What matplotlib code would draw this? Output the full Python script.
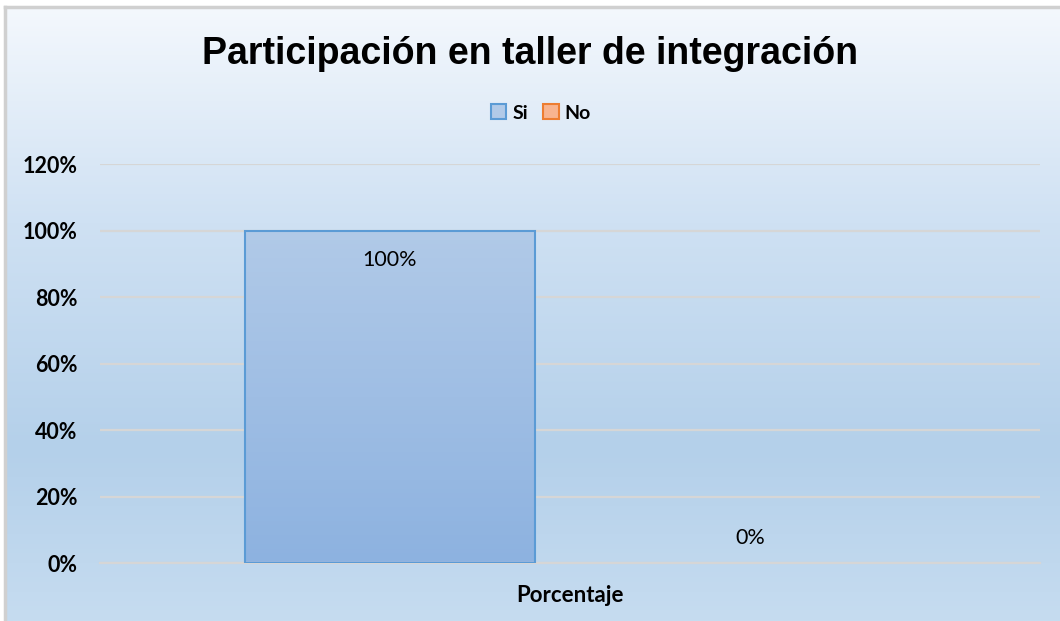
import matplotlib.pyplot as plt
import numpy as np
from matplotlib.colors import LinearSegmentedColormap

# --- Data ---
categories = ['Porcentaje']
series_names = ['Si', 'No']
si_values = [1.00]
no_values = [0.00]
y_ticks = [0.0, 0.2, 0.4, 0.6, 0.8, 1.0, 1.2]

fig = plt.figure(figsize=(10.6, 6.21), dpi=100)

# --- Chart-area background (Excel-like vertical gradient) ---
bg = fig.add_axes([5 / 1060, 0, 1 - 5 / 1060, 1 - 7 / 621], zorder=-10)
bg_cmap = LinearSegmentedColormap.from_list(
    'bg', [(0.0, '#c6dcf0'), (0.28, '#b4d0ea'), (0.65, '#cfe1f3'), (1.0, '#f4f8fd')])
grad = np.linspace(0, 1, 256).reshape(-1, 1)
bg.imshow(grad, aspect='auto', cmap=bg_cmap, origin='lower', extent=[0, 1, 0, 1])
bg.set_xlim(0, 1)
bg.set_ylim(0, 1)
bg.axis('off')
# border on left and top (the other edges are cut off)
bg.plot([0, 0], [0, 1], color='#d0d0d0', lw=2.5, clip_on=False)
bg.plot([0, 1], [1, 1], color='#d0d0d0', lw=2.5, clip_on=False)

# --- Plot area ---
ax = fig.add_axes([100 / 1060, 1 - 563 / 621, 940 / 1060, (563 - 164) / 621])
ax.patch.set_alpha(0)

x = np.arange(len(categories))
width = 0.3085
offset = 0.1915

bars_si = ax.bar(x - offset, si_values, width, color='none', edgecolor='#5b9bd5',
                 linewidth=1.5, label='Si', zorder=3)
# a zero-height bar draws nothing in the reference
bars_no = ax.bar(x + offset, no_values, width, color='#f8b48f', edgecolor='#ed7d31',
                 linewidth=0, label='No', zorder=3)

# gradient fill inside the Si bar
bar_cmap = LinearSegmentedColormap.from_list('bar', ['#8db2e0', '#b1cae8'])
for b in bars_si:
    x0, y0 = b.get_x(), b.get_y()
    w, h = b.get_width(), b.get_height()
    im = ax.imshow(grad, aspect='auto', cmap=bar_cmap, origin='lower',
                   extent=[x0, x0 + w, y0, y0 + h], zorder=2)
    im.set_clip_path(b)

# --- Axes styling ---
ax.set_xlim(-0.5, 0.5)
ax.set_ylim(0, 1.2)
ax.set_yticks(y_ticks)
ax.set_yticklabels([f'{int(round(v * 100))}%' for v in y_ticks],
                   fontsize=15.5, fontweight='bold', family='Lato')
ax.set_xticks(x)
ax.set_xticklabels(categories, fontsize=16, fontweight='bold', family='Lato')
ax.tick_params(axis='y', length=0, pad=16)
ax.tick_params(axis='x', length=0, pad=16)
ax.grid(True, axis='y', color='#d6d6d6', linewidth=1.6, zorder=0)
for s in ['top', 'right', 'left']:
    ax.spines[s].set_visible(False)
ax.spines['bottom'].set_color('#d6d6d6')
ax.spines['bottom'].set_linewidth(1.6)
ax.set_axisbelow(True)

# --- Data labels ---
for b, v in zip(bars_si, si_values):
    ax.annotate(f'{int(v * 100)}%', (b.get_x() + b.get_width() / 2, v),
                xytext=(0, -21), textcoords='offset points', ha='center', va='center',
                fontsize=15.5, family='Lato', zorder=5)
for b, v in zip(bars_no, no_values):
    ax.annotate(f'{int(v * 100)}%', (b.get_x() + b.get_width() / 2, v),
                xytext=(0, 18), textcoords='offset points', ha='center', va='center',
                fontsize=15.5, family='Lato', zorder=5)

# --- Title and legend ---
fig.text(530 / 1060, 1 - 54 / 621, 'Participación en taller de integración',
         ha='center', va='center', fontsize=27, fontweight='bold', family='Liberation Sans')

handles = [plt.Rectangle((0, 0), 1, 1, facecolor='#b1cae8', edgecolor='#5b9bd5', lw=1.5),
           plt.Rectangle((0, 0), 1, 1, facecolor='#f8b48f', edgecolor='#ed7d31', lw=1.5)]
fig.legend(handles, series_names, loc='center', bbox_to_anchor=(541 / 1060, 1 - 113 / 621),
           ncol=2, frameon=False, prop={'family': 'Lato', 'weight': 'bold', 'size': 14},
           handlelength=0.8, handleheight=0.8, handletextpad=0.3, columnspacing=0.8)

plt.savefig('out.png', dpi=100)
